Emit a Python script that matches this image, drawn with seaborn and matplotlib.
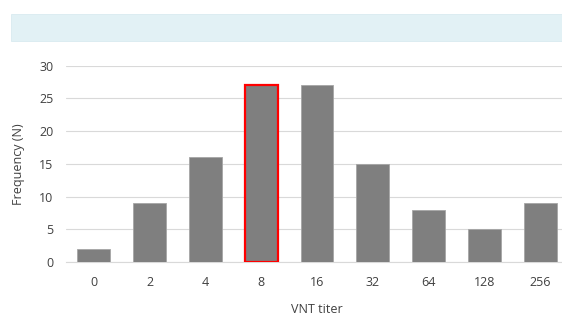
import matplotlib.pyplot as plt
import matplotlib.patches as mpatches
import seaborn as sns
import pandas as pd

# Daten
titer = ['0', '2', '4', '8', '16', '32', '64', '128', '256']
frequency = [2, 9, 16, 27, 27, 15, 8, 5, 9]
highlight = '8'

sns.set_theme(style="white")
plt.rcParams['font.family'] = ['Open Sans', 'DejaVu Sans']

df = pd.DataFrame({'titer': titer, 'frequency': frequency})

fig = plt.figure(figsize=(5.62, 3.19), dpi=100)
ax = fig.add_axes([66 / 562, 1 - 262 / 319, (568 - 66) / 562, (262 - 65.7) / 319])

# Hellblauer Balken oben
fig.patches.append(mpatches.Rectangle((11 / 562, 1 - 41 / 319), 551 / 562, 27 / 319,
                                      transform=fig.transFigure, facecolor='#e2f1f5',
                                      edgecolor='#d4e8ee', linewidth=0.5, zorder=0))

sns.barplot(data=df, x='titer', y='frequency', ax=ax, color='#7f7f7f',
            saturation=1, width=0.59, edgecolor='#a6a6a6', linewidth=0.6, zorder=3)

# Hervorgehobener Balken in Rot umrandet
for patch, t in zip(ax.patches, titer):
    if t == highlight:
        patch.set_edgecolor('#ff0000')
        patch.set_linewidth(1.6)

ax.set_xlim(-0.5, len(titer) - 0.5)
ax.set_ylim(0, 30)
ax.set_yticks(range(0, 31, 5))
ax.yaxis.grid(True, color='#d9d9d9', linewidth=0.8, zorder=0)
ax.set_axisbelow(True)
for side in ['top', 'right', 'left']:
    ax.spines[side].set_visible(False)
ax.spines['bottom'].set_color('#d9d9d9')
ax.spines['bottom'].set_linewidth(0.8)
ax.tick_params(axis='both', length=0, labelsize=9, colors='#404040')
ax.tick_params(axis='y', pad=9)
ax.tick_params(axis='x', pad=10)

ax.set_xlabel('VNT titer', fontsize=9, color='#404040', labelpad=10)
ax.set_ylabel('Frequency (N)', fontsize=9, color='#404040', labelpad=10)

fig.savefig('out.png', dpi=100)
